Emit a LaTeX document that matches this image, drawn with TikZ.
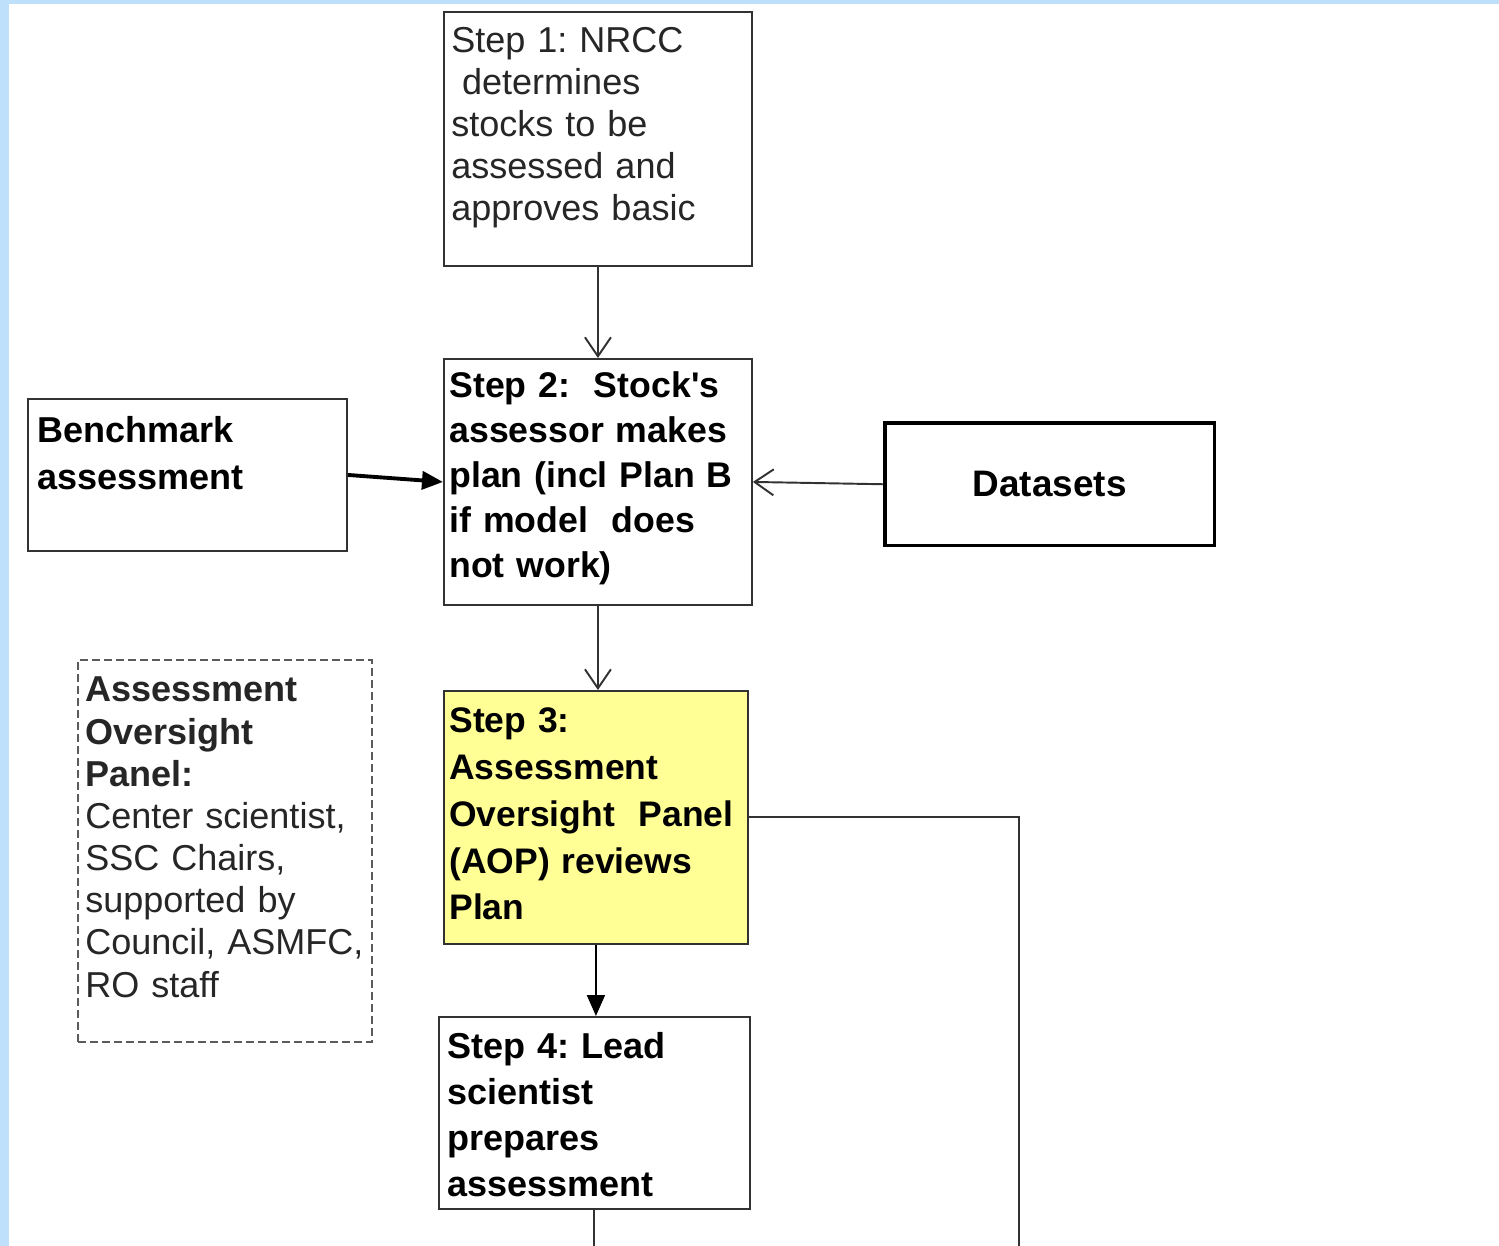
\documentclass[tikz,border=0pt]{standalone}
\usepackage{fontspec}
\setmainfont{Liberation Sans}
\usepackage{xcolor}
\usetikzlibrary{arrows.meta}
\definecolor{framebg}{RGB}{190,224,250}
\definecolor{aopyellow}{RGB}{255,255,150}
\definecolor{boxline}{RGB}{50,50,50}
\newcommand{\ind}{\hspace*{0.3em}}
\frenchspacing

\begin{document}
\begin{tikzpicture}[x=0.02cm,y=-0.02cm]
	\tikzset{stepbox/.style={draw=boxline,line width=1.1pt,anchor=north west,inner sep=0pt}}
	\tikzset{steptext/.style={anchor=base west,inner sep=0pt,text width=6cm,align=left,text=black}}
	\tikzset{openarr/.style={draw=boxline,line width=1.1pt,-{Straight Barb[length=0.38cm,width=0.52cm]}}}
	\tikzset{fillarr/.style={draw=black,line width=1.1pt,-{Triangle[length=0.42cm,width=0.36cm]}}}
	\useasboundingbox (0,0) rectangle (1499,1246);
	\fill[white] (0,0) rectangle (1499,1246);
	\fill[framebg] (0,0) rectangle (9,1246);
	\fill[framebg] (0,0) rectangle (1499,4);
	% boxes
	\node[stepbox,minimum width=6.16cm,minimum height=5.08cm] (s1) at (443,11) {};
	\node[steptext,font=\fontsize{20.5}{23.9}\selectfont,text=black!85] (s1txt) at (451,53)
		{Step 1: NRCC\\\ind determines\\stocks to be\\assessed and\\approves basic};
	\node[stepbox,minimum width=6.16cm,minimum height=4.92cm] (s2) at (443,358) {};
	\node[steptext,font=\fontsize{20.3}{25.6}\selectfont\bfseries] (s2txt) at (449,398)
		{Step 2:\ \ Stock\textquotesingle s\\assessor makes\\plan (incl Plan B\\if model\ \ does\\not work)};
	\node[stepbox,minimum width=6.38cm,minimum height=3.04cm] (bench) at (27,398) {};
	\node[steptext,font=\fontsize{20.5}{26.2}\selectfont\bfseries] (benchtxt) at (37,443)
		{Benchmark\\assessment};
	\node[stepbox,draw=black,line width=2pt,minimum width=6.6cm,minimum height=2.46cm,
		font=\fontsize{21}{25}\selectfont\bfseries] (data) at (883,421) {Datasets};
	\node[stepbox,fill=aopyellow,minimum width=6.08cm,minimum height=5.06cm] (s3) at (443,690) {};
	\node[steptext,font=\fontsize{20.2}{26.6}\selectfont\bfseries] (s3txt) at (449,733)
		{Step 3:\\Assessment\\Oversight\ \ Panel\\(AOP) reviews\\Plan};
	\node[stepbox,minimum width=6.22cm,minimum height=3.84cm] (s4) at (438,1016) {};
	\node[steptext,font=\fontsize{20.5}{26.2}\selectfont\bfseries] (s4txt) at (447,1058)
		{Step 4: Lead\\scientist\\prepares\\assessment};
	\node[stepbox,draw=boxline!80,dash pattern=on 0.16cm off 0.08cm,minimum width=5.88cm,minimum height=7.64cm] (aop) at (77,659) {};
	\node[steptext,font=\fontsize{20.5}{24}\selectfont,text=black!85] (aoptxt) at (85,702)
		{\textbf{Assessment}\\\textbf{Oversight}\\\textbf{Panel:}\\Center scientist,\\SSC Chairs,\\supported by\\Council, ASMFC,\\RO staff};
	% connectors
	\coordinate (s4end) at (596,1250);
	\coordinate (aopfeed) at (1019,1250);
	\draw[openarr] (s1.south) -- (s2.north);
	\draw[fillarr,line width=2.2pt] (bench.east) -- (s2.west);
	\draw[openarr] (data.west) -- (s2.east);
	\draw[openarr] (s2.south) -- (s2.south |- s3.north);
	\draw[fillarr] (s3.south) -- (s3.south |- s4.north);
	\draw[draw=boxline,line width=1.1pt] (s4.south) -- (s4.south |- s4end);
	\draw[draw=boxline,line width=1.1pt] (s3.east) -| (aopfeed);
\end{tikzpicture}
\end{document}
